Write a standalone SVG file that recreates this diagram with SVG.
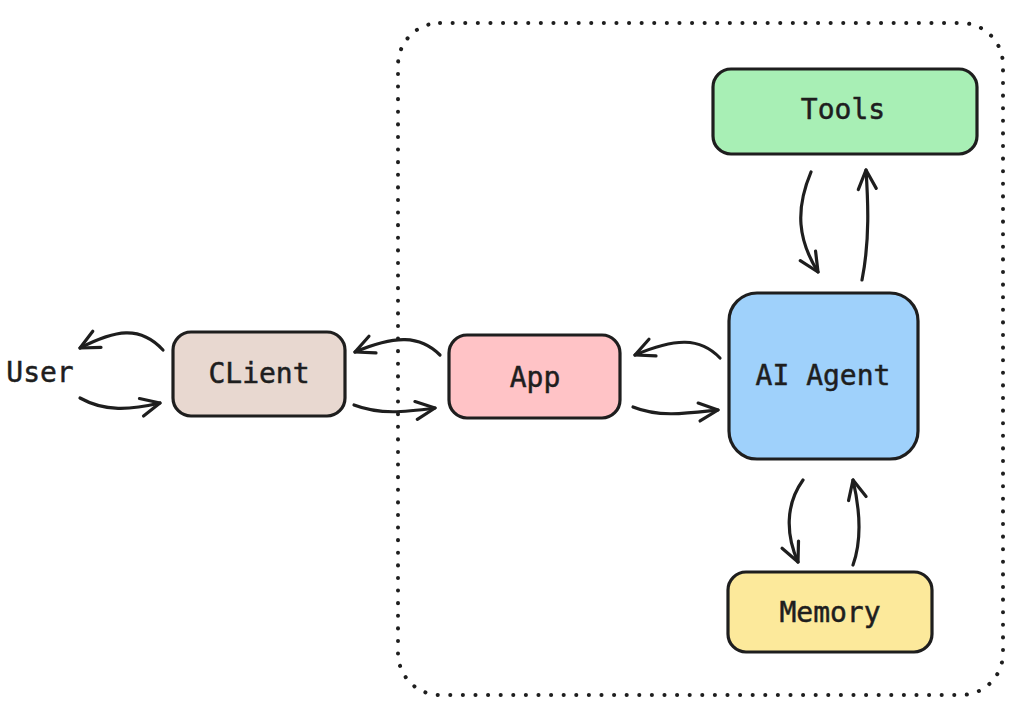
<svg xmlns="http://www.w3.org/2000/svg" width="1025" height="713" viewBox="0 0 1025 713">
<style>
.box{stroke:#1e1e1e;stroke-width:3.2;}
.lbl{font-family:"DejaVu Sans Mono","Liberation Mono",monospace;font-size:28px;fill:#1e1e1e;stroke:#1e1e1e;stroke-width:0.5;text-anchor:middle;dominant-baseline:central;}
.arr{fill:none;stroke:#1e1e1e;stroke-width:3.2;stroke-linecap:round;marker-end:url(#ah);}
</style>
<defs>
<marker id="ah" viewBox="0 0 24 24" refX="21" refY="12" markerWidth="24" markerHeight="24" markerUnits="userSpaceOnUse" orient="auto">
<path d="M2,3 L21,12 L2,21" fill="none" stroke="#1e1e1e" stroke-width="3.2" stroke-linecap="round" stroke-linejoin="round"/>
</marker>
</defs>
<rect width="1025" height="713" fill="#ffffff"/>
<g id="container">
<rect x="398" y="23" width="605" height="672" rx="42" fill="none" stroke="#1e1e1e" stroke-width="4" stroke-linecap="round" stroke-dasharray="0.1 12.5"/>
</g>
<g id="user"><text class="lbl" x="40" y="372">User</text></g>
<g id="client"><rect class="box" x="173" y="332" width="172" height="84" rx="18" fill="#e8d8d0"/><text class="lbl" x="259" y="373">CLient</text></g>
<g id="app"><rect class="box" x="449" y="335" width="171" height="83" rx="18" fill="#ffc3c6"/><text class="lbl" x="535" y="377">App</text></g>
<g id="agent"><rect class="box" x="729" y="293" width="189" height="166" rx="28" fill="#9fd1fb"/><text class="lbl" x="823" y="375">AI Agent</text></g>
<g id="tools"><rect class="box" x="713" y="69" width="264" height="85" rx="18" fill="#a8efb5"/><text class="lbl" x="843" y="109">Tools</text></g>
<g id="memory"><rect class="box" x="728" y="572" width="204" height="80" rx="18" fill="#fce99b"/><text class="lbl" x="830" y="612">Memory</text></g>
<g id="connectors">
<path class="arr" d="M163,350 C140,325 115,330 80,348"/>
<path class="arr" d="M80,398 C105,412 130,410 160,403"/>
<path class="arr" d="M440,355 C420,335 395,335 355,352"/>
<path class="arr" d="M354,405 C380,415 405,412 435,408"/>
<path class="arr" d="M720,358 C700,337 675,338 635,355"/>
<path class="arr" d="M633,407 C660,418 690,413 718,410"/>
<path class="arr" d="M811,172 C795,210 798,240 818,272"/>
<path class="arr" d="M862,280 C870,240 868,200 866,170"/>
<path class="arr" d="M803,480 C785,505 786,535 798,562"/>
<path class="arr" d="M853,565 C862,540 860,510 853,480"/>
</g>
</svg>
